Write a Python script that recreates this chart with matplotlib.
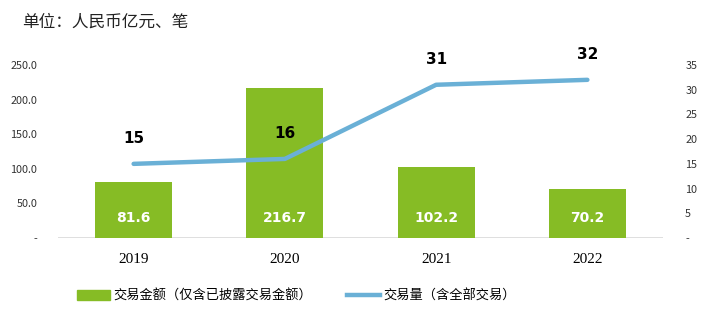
import matplotlib
matplotlib.use("Agg")
from matplotlib import pyplot as plt
from matplotlib.lines import Line2D
from matplotlib.patches import Patch
import numpy as np

plt.rcParams['font.family'] = ['Noto Sans CJK SC', 'DejaVu Sans']

years = ['2019', '2020', '2021', '2022']
amount = [81.6, 216.7, 102.2, 70.2]     # 交易金额, 亿元
count = [15, 16, 31, 32]                # 交易量, 笔

green = '#86bc25'
blue = '#6ab0d6'

fig = plt.figure(figsize=(7.08, 3.25), dpi=100)
ax = fig.add_axes([58 / 708, 1 - 238 / 325, 605 / 708, 173 / 325])
ax2 = ax.twinx()

x = np.arange(len(years))
ax.bar(x, amount, width=0.51, color=green, zorder=2)
for xi, v in zip(x, amount):
    ax.text(xi, 20 * 250 / 173, f'{v:.1f}', ha='center', va='center',
            color='white', fontsize=10, fontweight='bold', family='DejaVu Sans')

ax2.plot(x, count, color=blue, lw=3.2, solid_capstyle='round', zorder=3)
for xi, v in zip(x, count):
    ax2.text(xi, v + 25 * 35 / 173, str(v), ha='center', va='center',
             color='black', fontsize=11, fontweight='bold', family='DejaVu Sans')

ax.set_xlim(-0.5, 3.5)
ax.set_ylim(0, 250)
ax2.set_ylim(0, 35)
ax.set_xticks(x)
ax.set_xticklabels(years, family='Liberation Serif', fontsize=11)
ax.set_yticks(np.arange(0, 251, 50))
ax.set_yticklabels(['-'] + [f'{v:.1f}' for v in range(50, 251, 50)])
ax2.set_yticks(np.arange(0, 36, 5))
ax2.set_yticklabels(['-'] + [str(v) for v in range(5, 36, 5)], ha='left')

for a in (ax, ax2):
    for s in a.spines.values():
        s.set_visible(False)
    a.tick_params(length=0, labelsize=7.8, colors='#333333')
ax.tick_params(axis='y', pad=15)
ax2.tick_params(axis='y', pad=16)
ax.tick_params(axis='x', pad=11, labelsize=11, colors='black')
ax.axhline(0, color='#d9d9d9', lw=1.2, zorder=1)

fig.text(22 / 708, 1 - 22 / 325, '单位：人民币亿元、笔', fontsize=12,
         va='center', ha='left', color='#222222')

handles = [Patch(color=green), Line2D([0], [0], color=blue, lw=3.2)]
labels = ['交易金额（仅含已披露交易金额）', '交易量（含全部交易）']
fig.legend(handles, labels, loc='center', bbox_to_anchor=(0.419, 1 - 296 / 325),
           ncol=2, frameon=False, fontsize=9.5, handlelength=2.5,
           handleheight=0.7, handletextpad=0.3, columnspacing=2.6)

fig.savefig('out.png', dpi=100)
